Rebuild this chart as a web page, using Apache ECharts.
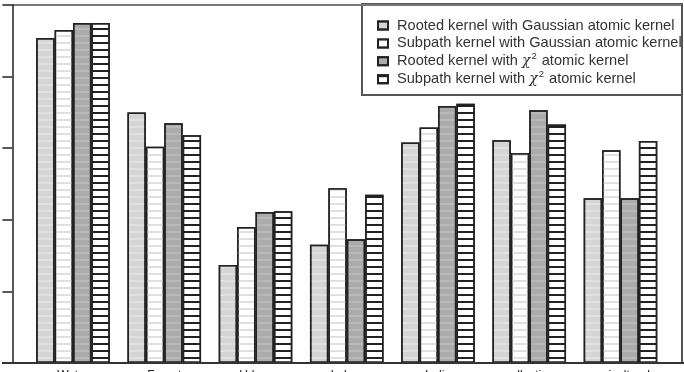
<!DOCTYPE html>
<html>
<head>
<meta charset="utf-8">
<script src="https://cdn.jsdelivr.net/npm/echarts@6/dist/echarts.min.js"></script>
<style>
  html, body { margin: 0; padding: 0; background: #fff; }
  #chart { width: 684px; height: 372px; }
</style>
</head>
<body>
<div id="chart"></div>
<script>
// categories (labels are clipped at the bottom of the picture)
const categories = ['Water', 'Forest', 'Urban', 'Lakes', 'India', 'collective', 'agricultural']

// series values (axis 0..5)
const rootedGauss = [4.54, 3.50, 1.37, 1.65, 3.08, 3.11, 2.30]
const subpathGauss = [4.65, 3.02, 1.90, 2.44, 3.29, 2.93, 2.97]
const rootedChi2 = [4.75, 3.35, 2.11, 1.73, 3.59, 3.53, 2.30]
const subpathChi2 = [4.75, 3.18, 2.12, 2.35, 3.62, 3.33, 3.10]

const seriesNames = [
  'Rooted kernel with Gaussian atomic kernel',
  'Subpath kernel with Gaussian atomic kernel',
  'Rooted kernel with {chi|χ}{sup|2} atomic kernel',
  'Subpath kernel with {chi|χ}{sup|2} atomic kernel'
]

const chart = echarts.init(document.getElementById('chart'))

const stripes = function (color) {
  return {
    symbol: 'rect',
    symbolSize: 1,
    color: color,
    dashArrayX: [1, 0],
    dashArrayY: [1.5, 4.4],
    rotation: 0
  }
}

const styles = [
  { color: '#d5d5d5', borderColor: '#222', borderWidth: 1.5, decal: stripes('rgba(255,255,255,0.25)') },
  { color: '#ffffff', borderColor: '#222', borderWidth: 1.5, decal: stripes('#e0e0e0') },
  { color: '#ababab', borderColor: '#222', borderWidth: 1.5, decal: stripes('rgba(255,255,255,0.15)') },
  { color: '#ffffff', borderColor: '#222', borderWidth: 1.5, decal: stripes('#222') }
]

const datas = [rootedGauss, subpathGauss, rootedChi2, subpathChi2]

chart.setOption({
  animation: false,
  grid: {
    left: 27.4,
    right: 17.9,
    top: 5,
    bottom: 9,
    containLabel: false,
    outerBoundsMode: 'none'
  },
  legend: {
    orient: 'vertical',
    left: 372,
    top: 10.5,
    itemWidth: 10,
    itemHeight: 8,
    itemGap: -2.1,
    icon: 'rect',
    textStyle: {
      fontFamily: 'Liberation Sans',
      fontSize: 14.6,
      lineHeight: 20,
      color: '#333',
      padding: [0, 0, 0, 4],
      rich: {
        chi: { fontFamily: 'DejaVu Serif', fontStyle: 'italic', fontSize: 14, lineHeight: 20, color: '#333' },
        sup: { fontSize: 9.5, lineHeight: 8, color: '#333', verticalAlign: 'top', padding: [0, 1, 0, 1] }
      }
    },
    data: seriesNames
  },
  xAxis: {
    type: 'category',
    data: categories,
    axisLine: { show: false },
    axisTick: { show: false },
    axisLabel: {
      margin: 7,
      fontFamily: 'Liberation Sans',
      fontSize: 12,
      color: '#222'
    }
  },
  yAxis: {
    type: 'value',
    min: 0,
    max: 5,
    interval: 1,
    offset: 15,
    axisLine: { show: true, lineStyle: { color: '#222', width: 1.5 } },
    axisTick: { show: true, length: 10, lineStyle: { color: '#222', width: 1.5 } },
    axisLabel: { show: false },
    splitLine: { show: false }
  },
  graphic: [
    // plot box
    { type: 'line', shape: { x1: 12, y1: 5, x2: 682, y2: 5 }, style: { stroke: '#777', lineWidth: 2 } },
    { type: 'line', shape: { x1: 682, y1: 5, x2: 682, y2: 363 }, style: { stroke: '#555', lineWidth: 2 } },
    { type: 'line', shape: { x1: 2, y1: 363, x2: 684, y2: 363 }, style: { stroke: '#333', lineWidth: 2 }, z: 10 },
    // legend box
    { type: 'rect', shape: { x: 362, y: 4, width: 320, height: 91 }, style: { fill: '#fff', stroke: '#555', lineWidth: 2 }, z: -1 }
  ],
  series: datas.map(function (d, i) {
    return {
      name: seriesNames[i],
      type: 'bar',
      barWidth: 18.4,
      barGap: '0%',
      itemStyle: styles[i],
      data: d
    }
  })
})
</script>
</body>
</html>
